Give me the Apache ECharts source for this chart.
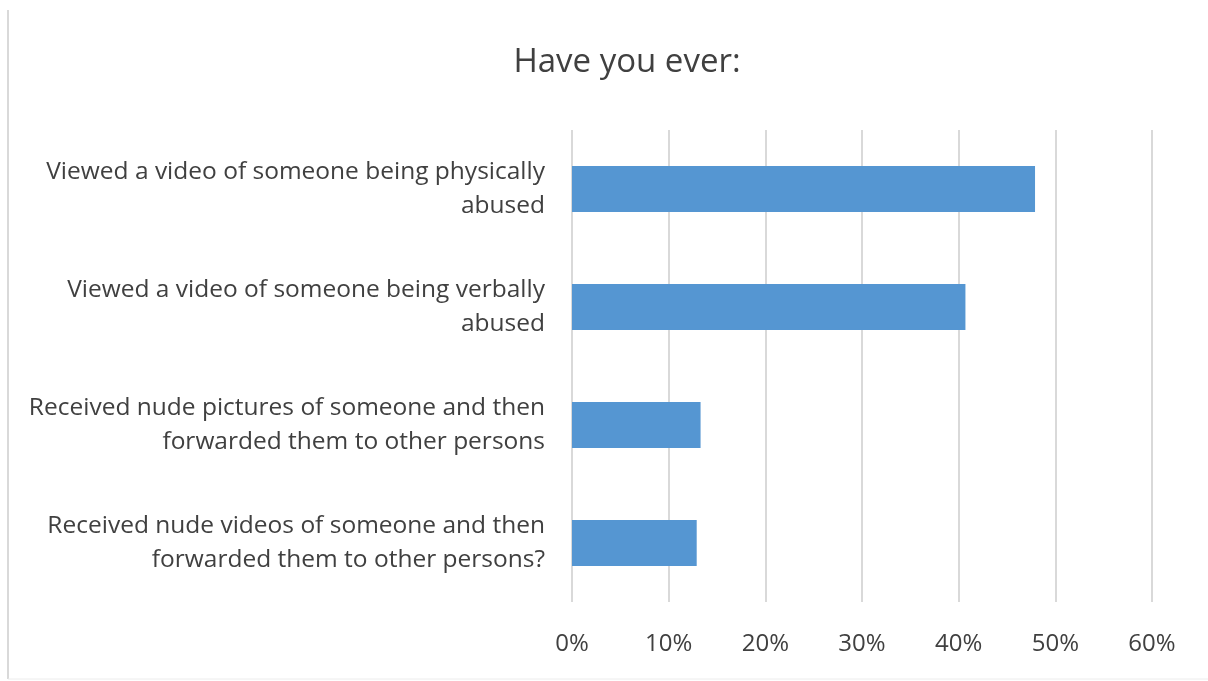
<!DOCTYPE html>
<html>
<head>
<meta charset="utf-8">
<style>
  html, body { margin: 0; padding: 0; background: #fff; }
  #chart { width: 1208px; height: 681px; }
</style>
<script src="https://cdn.jsdelivr.net/npm/echarts@6/dist/echarts.min.js"></script>
</head>
<body>
<div id="chart"></div>
<script>
// Survey responses, listed top to bottom
const categories = [
  'Viewed a video of someone being physically\nabused',
  'Viewed a video of someone being verbally\nabused',
  'Received nude pictures of someone and then\nforwarded them to other persons',
  'Received nude videos of someone and then\nforwarded them to other persons?'
];
const shares = [47.9, 40.7, 13.3, 12.9];
const tickValues = [0, 10, 20, 30, 40, 50, 60];

const chart = echarts.init(document.getElementById('chart'));
const font = '"Open Sans", "Liberation Sans", sans-serif';

chart.setOption({
  backgroundColor: '#ffffff',
  animation: false,
  title: {
    text: 'Have you ever:',
    left: 622,
    textAlign: 'center',
    top: 41,
    textStyle: { fontFamily: font, fontSize: 33, fontWeight: 'normal', color: '#404040' }
  },
  graphic: [
    { type: 'line', shape: { x1: 8, y1: 10, x2: 8, y2: 679 }, style: { stroke: '#d9d9d9', lineWidth: 2 } },
    { type: 'line', shape: { x1: 8, y1: 679, x2: 1208, y2: 679 }, style: { stroke: '#ececec', lineWidth: 1 } }
  ],
  grid: { left: 572, right: 56, top: 130, bottom: 79, containLabel: false },
  xAxis: {
    type: 'value',
    min: tickValues[0],
    max: tickValues[tickValues.length - 1],
    interval: 10,
    axisLine: { show: false },
    axisTick: { show: false },
    axisLabel: {
      formatter: v => v + '%',
      fontFamily: font, fontSize: 24, color: '#404040', margin: 30
    },
    splitLine: { show: true, lineStyle: { color: '#d9d9d9', width: 2 } }
  },
  yAxis: {
    type: 'category',
    data: categories,
    inverse: true,
    axisLine: { show: false },
    axisTick: { show: false },
    axisLabel: {
      fontFamily: font, fontSize: 24.5, color: '#404040', margin: 27,
      align: 'right', lineHeight: 34
    }
  },
  series: [{
    type: 'bar',
    data: shares,
    barWidth: '39%',
    itemStyle: { color: '#5596d2' }
  }]
});
</script>
</body>
</html>
